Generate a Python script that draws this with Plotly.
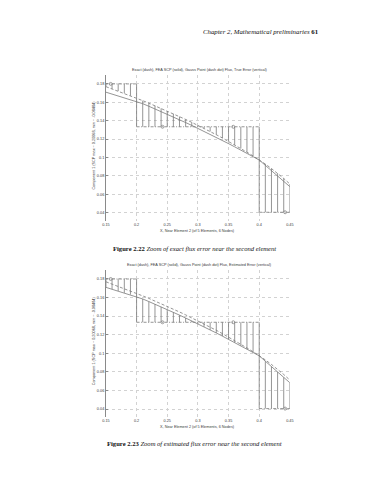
import plotly.graph_objects as go

# ---------------- data ----------------
x_pts = [0.15, 0.16, 0.17, 0.18, 0.19, 0.20, 0.21, 0.22, 0.23, 0.24, 0.25,
         0.26, 0.27, 0.28, 0.29, 0.30, 0.31, 0.32, 0.33, 0.34, 0.35,
         0.36, 0.37, 0.38, 0.39, 0.40, 0.41, 0.42, 0.43, 0.44, 0.45]
exact_flux = [0.1770, 0.1746, 0.1722, 0.1697, 0.1671, 0.1645, 0.1618, 0.1591,
              0.1563, 0.1534, 0.1505, 0.1475, 0.1445, 0.1414, 0.1382, 0.1350,
              0.1317, 0.1283, 0.1248, 0.1212, 0.1175, 0.1137, 0.1098, 0.1058,
              0.1017, 0.0975, 0.0929, 0.0880, 0.0828, 0.0772, 0.0712]
scp_flux = [0.1710, 0.1690, 0.1671, 0.1651, 0.1632, 0.1612, 0.1585, 0.1557,
            0.1529, 0.1500, 0.1471, 0.1441, 0.1411, 0.1380, 0.1349, 0.1317,
            0.1285, 0.1252, 0.1219, 0.1185, 0.1151, 0.1116, 0.1081, 0.1045,
            0.1009, 0.0973, 0.0915, 0.0857, 0.0799, 0.0741, 0.0683]
nodes = [0.0, 0.2, 0.4, 0.6]
element_flux = [0.1800, 0.1334, 0.0405]
gauss_x = [0.1577, 0.2423, 0.3577, 0.4423]
gauss_flux = [0.1800, 0.1334, 0.1334, 0.0405]

x_ticks = [0.15, 0.2, 0.25, 0.3, 0.35, 0.4, 0.45]
x_tick_text = ["0.15", "0.2", "0.25", "0.3", "0.35", "0.4", "0.45"]
y_ticks = [0.04, 0.06, 0.08, 0.1, 0.12, 0.14, 0.16, 0.18]
y_tick_text = ["0.04", "0.06", "0.08", "0.1", "0.12", "0.14", "0.16", "0.18"]

titles = ["Exact (dash), FEA SCP (solid), Gauss Point (dash dot) Flux, True Error (vertical)",
          "Exact (dash), FEA SCP (solid), Gauss Point (dash dot) Flux, Estimated Error (vertical)"]
x_label = "X, Near Element 2 (of 5 Elements, 6 Nodes)"
y_label = "Component 1 (SCP max ~ 0.20068, min ~ -0.08484)"
captions = [("Figure 2.22", "Zoom of exact flux error near the second element"),
            ("Figure 2.23", "Zoom of estimated flux error near the second element")]
header = ("Chapter 2, Mathematical preliminaries", "61")

# ---------------- figure ----------------
W, H = 370, 480
LINE = "#7a7a7a"
GRID = "#d2d2d2"
SANS = "Liberation Sans, Arial, sans-serif"
SERIF = "Liberation Serif, Times New Roman, serif"
FS = 3.8
TXT = "#3a3a3a"

x_dom = [96 / W, 284 / W]
panels = [  # (top px, bottom px)
    (66.7, 213.0),
    (261.7, 409.4),
]

fig = go.Figure()
annotations = []

for p, (top, bot) in enumerate(panels):
    xa = "x" if p == 0 else "x2"
    ya = "y" if p == 0 else "y2"
    err_curve = exact_flux if p == 0 else scp_flux

    # vertical error lines
    vx, vy = [], []
    for e in range(len(element_flux)):
        for xi, ci in zip(x_pts, err_curve):
            if nodes[e] - 1e-9 <= xi <= nodes[e + 1] + 1e-9:
                vx += [xi, xi, None]
                vy += [element_flux[e], ci, None]
    fig.add_trace(go.Scatter(x=vx, y=vy, mode="lines", xaxis=xa, yaxis=ya,
                             line=dict(color=LINE, width=0.8), showlegend=False,
                             hoverinfo="skip"))
    # piecewise constant FEA (gauss point) flux, dash-dot
    for e in range(len(element_flux)):
        fig.add_trace(go.Scatter(x=[nodes[e], nodes[e + 1]],
                                 y=[element_flux[e], element_flux[e]],
                                 mode="lines", xaxis=xa, yaxis=ya,
                                 line=dict(color=LINE, width=0.8, dash="3px,1.5px,1px,1.5px"),
                                 showlegend=False))
    # gauss points
    fig.add_trace(go.Scatter(x=gauss_x, y=gauss_flux, mode="markers", xaxis=xa, yaxis=ya,
                             marker=dict(symbol="circle-open", size=3,
                                         color=LINE, line=dict(width=0.7)),
                             showlegend=False))
    # exact flux (dashed)
    fig.add_trace(go.Scatter(x=x_pts, y=exact_flux, mode="lines", xaxis=xa, yaxis=ya,
                             line=dict(color=LINE, width=0.8, dash="3px,2px"),
                             showlegend=False))
    # SCP flux (solid)
    fig.add_trace(go.Scatter(x=x_pts, y=scp_flux, mode="lines", xaxis=xa, yaxis=ya,
                             line=dict(color=LINE, width=0.8),
                             showlegend=False))

    ydom = [1 - bot / H, 1 - top / H]
    axx = dict(domain=x_dom, range=[0.15, 0.45], tickvals=x_ticks, ticktext=x_tick_text,
               showgrid=True, gridcolor=GRID, griddash="dot", gridwidth=0.5,
               zeroline=False, showline=False, ticks="",
               tickfont=dict(family=SANS, size=FS, color=TXT),
               anchor=ya)
    axy = dict(domain=ydom, range=[0.031, 0.19], tickvals=y_ticks, ticktext=y_tick_text,
               showgrid=True, gridcolor=GRID, griddash="dot", gridwidth=0.5,
               zeroline=False, showline=True, linecolor="#8a8a8a", linewidth=0.8,
               ticks="inside", ticklen=2, tickcolor="#8a8a8a", tickwidth=0.6,
               tickfont=dict(family=SANS, size=FS, color=TXT),
               anchor=xa)
    if p == 0:
        fig.update_layout(xaxis=axx, yaxis=axy)
    else:
        fig.update_layout(xaxis2=axx, yaxis2=axy)

    cx = (x_dom[0] + x_dom[1]) / 2
    annotations.append(dict(text=titles[p], x=192 / W, y=1 - (top - 4.5) / H,
                            xref="paper", yref="paper", showarrow=False,
                            xanchor="center", yanchor="middle",
                            font=dict(family=SANS, size=FS, color=TXT)))
    annotations.append(dict(text=x_label, x=cx, y=1 - (bot + 10) / H,
                            xref="paper", yref="paper", showarrow=False,
                            xanchor="center", yanchor="middle",
                            font=dict(family=SANS, size=FS, color=TXT)))
    annotations.append(dict(text=y_label, x=83.5 / W, y=1 - ((top + bot) / 2 - 3) / H,
                            xref="paper", yref="paper", showarrow=False, textangle=-90,
                            xanchor="center", yanchor="middle",
                            font=dict(family=SANS, size=FS, color=TXT)))
    cap_y = [240, 435][p]
    annotations.append(dict(text="<b>%s</b> <i>%s</i>" % captions[p], x=187 / W,
                            y=1 - cap_y / H, xref="paper", yref="paper", showarrow=False,
                            xanchor="center", yanchor="middle",
                            font=dict(family=SERIF, size=6.6, color="#111")))

annotations.append(dict(text="<i>%s</i> <b>%s</b>" % header, x=316 / W, y=1 - 23 / H,
                        xref="paper", yref="paper", showarrow=False,
                        xanchor="right", yanchor="middle",
                        font=dict(family=SERIF, size=6.8, color="#111")))

fig.update_layout(width=W, height=H, margin=dict(l=0, r=0, t=0, b=0),
                  paper_bgcolor="white", plot_bgcolor="white",
                  annotations=annotations, showlegend=False)

fig.write_html("out.html", config={"displayModeBar": False})
